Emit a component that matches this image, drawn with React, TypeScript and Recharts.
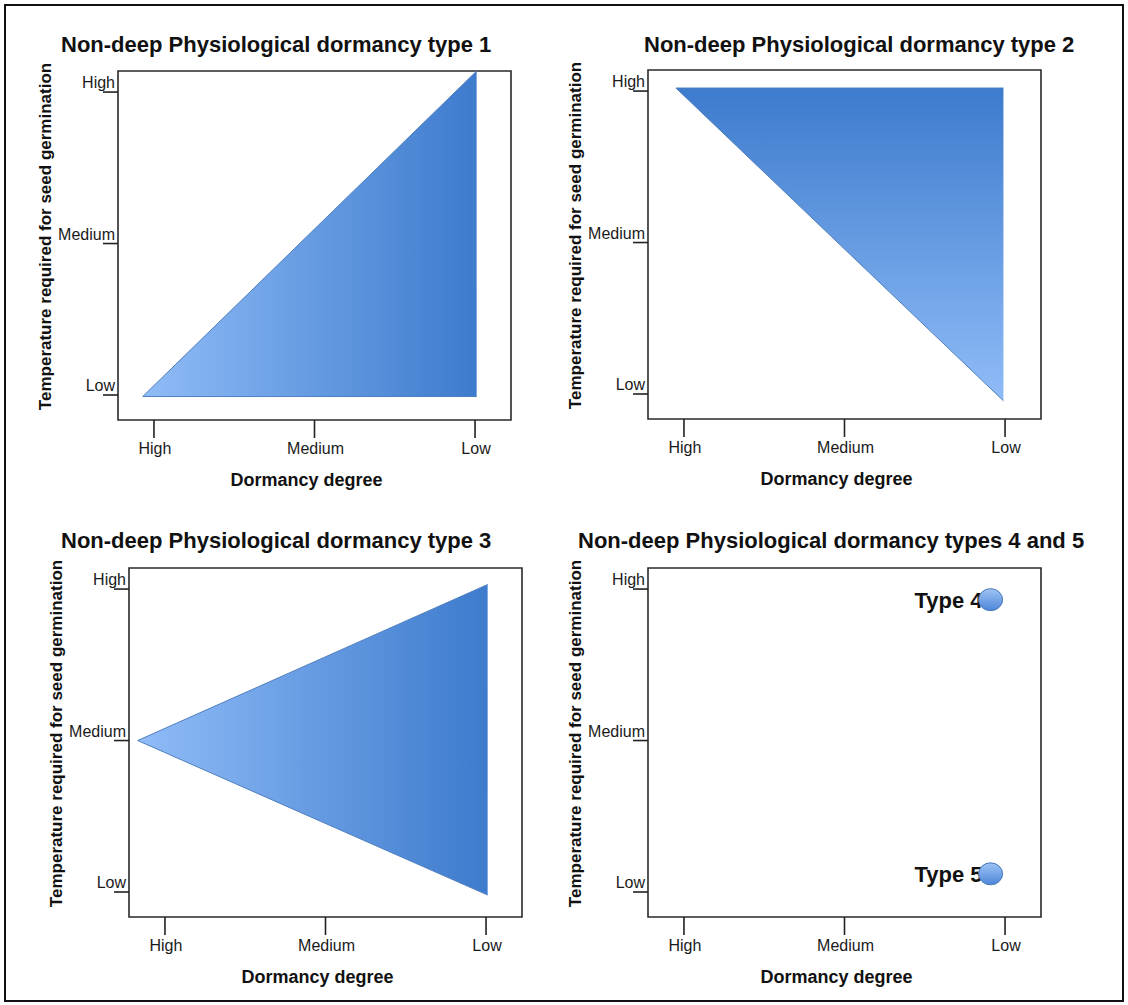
import { Area, ComposedChart, ReferenceArea, Scatter, ScatterChart, XAxis, YAxis } from "recharts";

const FONT = "'Liberation Sans', Arial, Helvetica, sans-serif";

// axis categories (x: dormancy degree, y: temperature)
const tickValues = [0, 1, 2];
const xTickLabels = ["High", "Medium", "Low"];
const yTickLabels = ["Low", "Medium", "High"];

const panelTitles = [
  "Non-deep Physiological dormancy type 1",
  "Non-deep Physiological dormancy type 2",
  "Non-deep Physiological dormancy type 3",
  "Non-deep Physiological dormancy types 4 and 5",
];

// triangle outlines (x, [lower, upper])
const type1Shape = [
  { x: -0.07, range: [-0.01, -0.01] },
  { x: 2.01, range: [-0.01, 2.139] },
];
const type2Shape = [
  { x: -0.05, range: [2.02, 2.02] },
  { x: 1.99, range: [-0.045, 2.02] },
];
const type3Shape = [
  { x: -0.17, range: [1, 1] },
  { x: 2.01, range: [-0.02, 2.03] },
];
const type45Points = [
  { name: "Type 4", x: 1.91, y: 1.93 },
  { name: "Type 5", x: 1.91, y: 0.12 },
];

const X_DOMAIN: [number, number] = [-0.224, 2.224];
const Y_DOMAIN: [number, number] = [-0.165, 2.139];

const Y_AXIS_W = 110;
const TOP_M = 70;
const RIGHT_M = 20;
const X_AXIS_H = 80;
const CHART_W = Y_AXIS_W + 393 + RIGHT_M;
const CHART_H = TOP_M + 349 + X_AXIS_H;

function XTick({ x, y, payload }: any) {
  return (
    <g>
      <line x1={x} y1={y} x2={x} y2={y + 18} stroke="#222" strokeWidth={1.6} />
      <text x={x + 1} y={y + 34} textAnchor="middle" fontSize={16} fill="#1a1a1a" fontFamily={FONT}>
        {xTickLabels[payload.value]}
      </text>
    </g>
  );
}

function YTick({ x, y, payload }: any) {
  return (
    <g>
      <line x1={x - 15} y1={y} x2={x} y2={y} stroke="#222" strokeWidth={1.6} />
      <text x={x - 3} y={y - 4} textAnchor="end" fontSize={16} fill="#1a1a1a" fontFamily={FONT}>
        {yTickLabels[payload.value]}
      </text>
    </g>
  );
}

function XTitle({ viewBox }: any) {
  const { x, y, width } = viewBox;
  return (
    <text x={x + width / 2 - 8} y={y + 66} textAnchor="middle" fontSize={18} fontWeight="bold" fill="#111" fontFamily={FONT}>
      Dormancy degree
    </text>
  );
}

function YTitle({ viewBox }: any) {
  const { x, y, width, height } = viewBox;
  const cx = x + width - 73;
  const cy = y + height / 2 - 9;
  return (
    <text
      x={cx}
      y={cy}
      transform={`rotate(-90 ${cx} ${cy})`}
      textAnchor="middle"
      dominantBaseline="central"
      fontSize={17}
      fontWeight="bold"
      fill="#111"
      fontFamily={FONT}
    >
      Temperature required for seed germination
    </text>
  );
}

function axes() {
  return (
    <>
      <XAxis
        type="number"
        dataKey="x"
        domain={X_DOMAIN}
        allowDataOverflow
        ticks={tickValues}
        interval={0}
        height={X_AXIS_H}
        axisLine={false}
        tickLine={false}
        tickSize={0}
        tickMargin={0}
        tick={<XTick />}
        label={{ content: (p: any) => <XTitle {...p} /> }}
      />
      <YAxis
        type="number"
        dataKey="y"
        domain={Y_DOMAIN}
        allowDataOverflow
        ticks={tickValues}
        interval={0}
        width={Y_AXIS_W}
        axisLine={false}
        tickLine={false}
        tickSize={0}
        tickMargin={0}
        tick={<YTick />}
        label={{ content: (p: any) => <YTitle {...p} /> }}
      />
      <ReferenceArea
        x1={X_DOMAIN[0]}
        x2={X_DOMAIN[1]}
        y1={Y_DOMAIN[0]}
        y2={Y_DOMAIN[1]}
        fill="none"
        fillOpacity={0}
        stroke="#2a2a2a"
        strokeWidth={1.6}
        ifOverflow="visible"
      />
    </>
  );
}

function Title({ text, left, baseline }: { text: string; left: number; baseline: number }) {
  return (
    <div
      style={{
        position: "absolute",
        left,
        top: baseline - 18.6,
        fontFamily: FONT,
        fontWeight: "bold",
        fontSize: 22,
        lineHeight: "22px",
        whiteSpace: "nowrap",
        color: "#111",
      }}
    >
      {text}
    </div>
  );
}

function TrianglePanel({ data, boxLeft, boxTop, gradId, vertical }: any) {
  return (
    <div style={{ position: "absolute", left: boxLeft - Y_AXIS_W, top: boxTop - TOP_M }}>
      <ComposedChart width={CHART_W} height={CHART_H} data={data} margin={{ top: TOP_M, right: RIGHT_M, bottom: 0, left: 0 }}>
        <defs>
          <linearGradient id={gradId} x1="0" y1="0" x2={vertical ? "0" : "1"} y2={vertical ? "1" : "0"}>
            <stop offset="0%" stopColor={vertical ? "#3d7bcd" : "#90bcf7"} />
            <stop offset="100%" stopColor={vertical ? "#90bcf7" : "#3d7bcd"} />
          </linearGradient>
        </defs>
        {axes()}
        <Area
          type="linear"
          dataKey="range"
          stroke="#4f7fbf"
          strokeWidth={1}
          fill={`url(#${gradId})`}
          fillOpacity={1}
          dot={false}
          activeDot={false}
          isAnimationActive={false}
        />
      </ComposedChart>
    </div>
  );
}

function PointShape(props: any) {
  const { cx, cy, payload } = props;
  return (
    <g>
      <text x={cx - 8} y={cy + 8} textAnchor="end" fontSize={22} fontWeight="bold" fill="#111" fontFamily={FONT}>
        {payload.name}
      </text>
      <ellipse cx={cx} cy={cy} rx={12} ry={11} fill="url(#dotFill)" stroke="#4a78b8" strokeWidth={1} />
    </g>
  );
}

function PointPanel({ boxLeft, boxTop }: any) {
  return (
    <div style={{ position: "absolute", left: boxLeft - Y_AXIS_W, top: boxTop - TOP_M }}>
      <ScatterChart width={CHART_W} height={CHART_H} margin={{ top: TOP_M, right: RIGHT_M, bottom: 0, left: 0 }}>
        <defs>
          <linearGradient id="dotFill" x1="0" y1="0" x2="0" y2="1">
            <stop offset="0%" stopColor="#9fc4f5" />
            <stop offset="100%" stopColor="#4d86d9" />
          </linearGradient>
        </defs>
        {axes()}
        <Scatter data={type45Points} shape={<PointShape />} isAnimationActive={false} />
      </ScatterChart>
    </div>
  );
}

export default function App() {
  return (
    <div style={{ position: "absolute", left: 0, top: 0, width: 1128, height: 1005, background: "#fff", overflow: "hidden" }}>
      <div
        style={{
          position: "absolute",
          left: 4,
          top: 4,
          width: 1120,
          height: 998,
          border: "2px solid #111",
          boxSizing: "border-box",
        }}
      />
      <TrianglePanel data={type1Shape} boxLeft={118} boxTop={71} gradId="g1" vertical={false} />
      <TrianglePanel data={type2Shape} boxLeft={648} boxTop={70} gradId="g2" vertical={true} />
      <TrianglePanel data={type3Shape} boxLeft={129} boxTop={568} gradId="g3" vertical={false} />
      <PointPanel boxLeft={648} boxTop={568} />
      <Title text={panelTitles[0]} left={61} baseline={52.5} />
      <Title text={panelTitles[1]} left={644} baseline={52.5} />
      <Title text={panelTitles[2]} left={61} baseline={548.5} />
      <Title text={panelTitles[3]} left={578} baseline={548.5} />
    </div>
  );
}
